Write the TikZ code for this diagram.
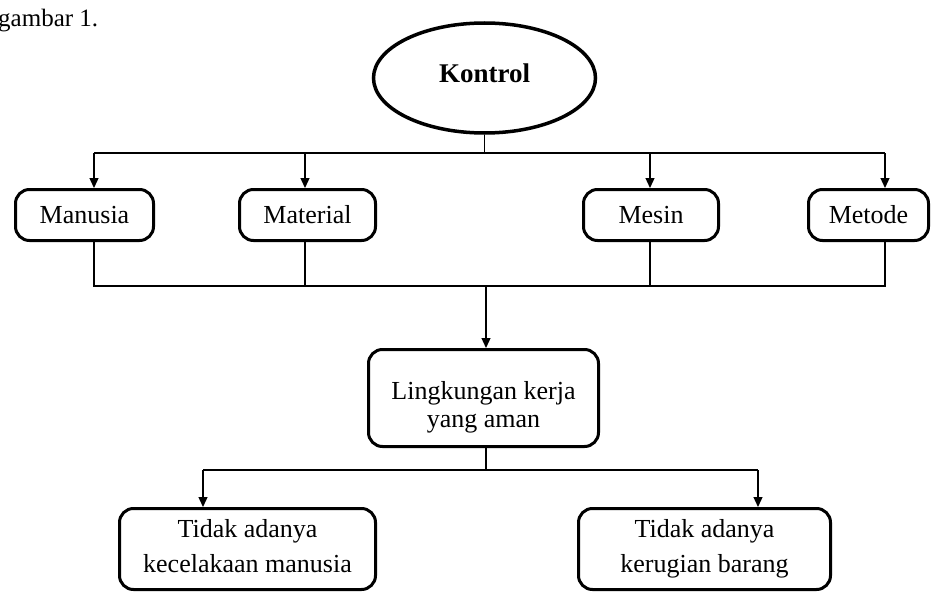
\documentclass[tikz,border=0pt]{standalone}
\usepackage{fontspec}
\setmainfont{Liberation Serif}
\usetikzlibrary{arrows.meta}
\usetikzlibrary{shapes.geometric}

\tikzset{
  kotak/.style={draw,line width=3pt,rounded corners=14pt,align=center,inner sep=0pt,
    font=\fontsize{26}{28}\selectfont},
  oval/.style={draw,ellipse,line width=3.5pt,inner sep=0pt,minimum width=222pt,
    minimum height=110pt,font=\fontsize{27}{29}\selectfont\bfseries},
  garis/.style={line width=1.3pt},
  panah/.style={line width=1.3pt,-{Triangle[length=10pt,width=9pt]}},
}

\begin{document}
\begin{tikzpicture}[x=1pt,y=-1pt]
		\useasboundingbox (0,0) rectangle (935,594);
		\node[anchor=base west,inner sep=0pt,font=\fontsize{25}{27}\selectfont] (judul) at (-2,27) {gambar 1.};

		% kontrol di atas
		\node[oval,text depth=10pt] (kontrol) at (484.5,78) {Kontrol};

		% baris faktor
		\node[kotak,minimum width=138pt,minimum height=51pt] (manusia) at (84.5,215) {Manusia};
		\node[kotak,minimum width=136pt,minimum height=51pt] (material) at (307.5,215) {Material};
		\node[kotak,minimum width=135pt,minimum height=51pt] (mesin) at (651,215) {Mesin};
		\node[kotak,minimum width=120pt,minimum height=51pt] (metode) at (868.5,215) {Metode};

		\node[kotak,minimum width=230pt,minimum height=97pt,text height=58pt,text depth=0pt] (aman) at (483.5,398) {Lingkungan kerja\\yang aman};

		\node[kotak,minimum width=256pt,minimum height=81pt,font=\fontsize{26}{35}\selectfont,text height=46pt,text depth=0pt] (cedera) at (247.5,549) {Tidak adanya\\kecelakaan manusia};
		\node[kotak,minimum width=252pt,minimum height=81pt,font=\fontsize{26}{35}\selectfont,text height=46pt,text depth=0pt] (barang) at (704.5,549) {Tidak adanya\\kerugian barang};

		% percabangan atas
		\coordinate (a1) at (94,153);
		\coordinate (a2) at (305,153);
		\coordinate (a3) at (650,153);
		\coordinate (a4) at (885,153);
		\draw[garis] (kontrol.south) -- (kontrol.south |- a1);
		\draw[garis] (a1) -- (a4);
		\draw[panah] (a1) -- (a1 |- manusia.north);
		\draw[panah] (a2) -- (a2 |- material.north);
		\draw[panah] (a3) -- (a3 |- mesin.north);
		\draw[panah] (a4) -- (a4 |- metode.north);

		% penggabungan
		\coordinate (b1) at (94,286);
		\coordinate (b2) at (305,286);
		\coordinate (b3) at (650,286);
		\coordinate (b4) at (885,286);
		\draw[garis] (manusia.south -| b1) -- (b1) -- (b4) -- (metode.south -| b4);
		\draw[garis] (material.south -| b2) -- (b2);
		\draw[garis] (mesin.south -| b3) -- (b3);
		\draw[panah] (486,286) -- (486,0 |- aman.north);

		% hasil
		\coordinate (c1) at (203,470);
		\coordinate (c2) at (758,470);
		\draw[garis] (aman.south -| 486,0) -- (486,470);
		\draw[garis] (c1) -- (c2);
		\draw[panah] (c1) -- (c1 |- cedera.north);
		\draw[panah] (c2) -- (c2 |- barang.north);
	\end{tikzpicture}
\end{document}
